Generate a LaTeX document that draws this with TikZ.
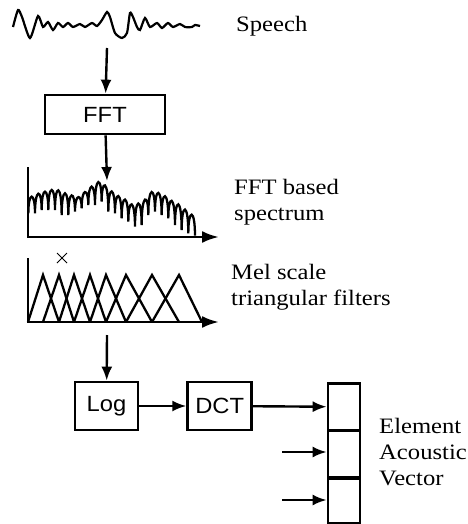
\documentclass[tikz,border=0pt]{standalone}
\usepackage{fontspec}
\setmainfont[FakeStretch=1.12]{Liberation Serif}
\newfontfamily\boxfont[FakeStretch=1.08]{Liberation Sans}
\usepackage{tikz}
\usetikzlibrary{positioning,arrows.meta}

\begin{document}
\begin{tikzpicture}[x=1pt, y=-1pt, line width=2.4pt, node distance=47pt,
    every node/.style={font=\fontsize{22}{26}\selectfont}]
        \tikzstyle{blk}=[draw, line width=2.7pt, inner sep=0pt, font=\fontsize{22}{26}\boxfont]
        \tikzstyle{cell}=[draw, line width=2.7pt, minimum width=32pt, minimum height=47pt, inner sep=0pt, anchor=north]
        \tikzstyle{lbl}=[anchor=base west, align=left, inner sep=0pt]
        \tikzstyle{flow}=[-{Latex[length=14pt,width=11pt]}]
        \tikzstyle{axis}=[line width=2.8pt, -{Latex[length=17pt,width=12pt]}]
        \useasboundingbox (0,0) rectangle (467,524);
        % speech signal
        \draw[line width=2.2pt] plot[smooth, tension=0.4] coordinates {(13,27) (18,10) (22,17) (30,38) (38,16) (43,27) (48,22) (53,30) (58,23) (63,27) (68,23) (73,27) (80,24) (85,27) (92,23) (97,26) (102,20) (107,12) (110,17) (115,33) (122,38) (127,33) (130,13) (133,17) (137,27) (140,30) (145,18) (150,27) (157,23) (162,28) (168,23) (173,27) (180,24) (185,27) (192,27) (195,25) (200,26)};
        \node[lbl] (speech) at (235,32) {Speech};
        \coordinate (s) at (107,48);
        \node[blk, minimum width=120pt, minimum height=39pt] (fft) at (105,114.5) {FFT};
        \draw[flow] (s) -- (fft);
        % spectrum
        \draw[axis] (28,167) -- (28,237) -- (219,237);
        \begin{scope}[shift={(20,165)}, x=0.3333pt, y=-0.3333pt, line width=2.3pt]
            \draw (25,145) foreach \x/\t/\v in {35/95/145, 55/85/135, 75/80/135, 95/75/135, 115/78/150, 135/85/150, 155/90/140, 175/95/130, 195/80/120, 215/65/120, 235/50/110, 255/65/140, 275/80/145, 295/95/160, 315/105/170, 335/120/185, 355/115/180, 375/100/150, 395/80/140, 415/85/150, 435/95/160, 455/110/180, 475/120/195, 495/135/205, 515/150/212}
                { .. controls ({\x-10},{1.333*\t-0.333*\v}) and ({\x+10},{1.333*\t-0.333*\v}) .. ({\x+10},\v) };
        \end{scope}
        \coordinate (sp) at (107,181);
        \draw[flow] (fft) -- (sp);
        \node[lbl] (spec) at (233,220) {FFT based\\spectrum};
        % mel filters
        \draw[axis] (28,258) -- (28,322) -- (219,322);
        \foreach \l/\p/\r in {28/43/59, 43/59/74, 59/74/90, 74/90/106, 90/106/126, 106/126/152, 126/152/179, 152/179/202}
            \draw[line width=2.3pt] (\l,322) -- (\p,275) -- (\r,322);
        \draw[line width=1pt] (57,253) -- (67,263) (57,263) -- (67,253);
        \node[lbl] (mel) at (230,305) {Mel scale\\triangular filters};
        % log, dct and vector
        \coordinate (m) at (107,335);
        \node[blk, minimum width=63pt, minimum height=48pt] (log) at (106.5,406) {Log};
        \node[blk, minimum width=64pt, minimum height=48pt, right=of log] (dct) {DCT};
        \draw[flow] (m) -- (log);
        \draw[flow] (log) -- (dct);
        \node[cell] (c1) at (344,382) {};
        \node[cell] (c2) at (344,429) {};
        \node[cell, minimum height=45pt] (c3) at (344,477) {};
        \coordinate (a2) at (282,452);
        \coordinate (a3) at (282,500);
        \draw[flow] (dct) -- (c1);
        \draw[flow] (a2) -- (c2.west |- a2);
        \draw[flow] (a3) -- (c3.west |- a3);
        \node[lbl] (vec) at (378,485) {Element\\Acoustic\\Vector};
      \end{tikzpicture}
\end{document}
